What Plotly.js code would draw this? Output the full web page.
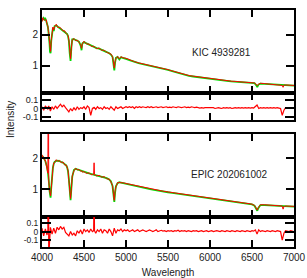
<!DOCTYPE html>
<html>
<head>
<meta charset="utf-8">
<script src="https://cdn.plot.ly/plotly-3.0.1.min.js"></script>
<style>html,body{margin:0;padding:0;background:#fff;}#chart{width:307px;height:278px;}</style>
</head>
<body>
<div id="chart"></div>
<script>
// Wavelength grid for spectra (Angstrom)
const wave = [
4000,4010,4020,4030,4040,4050,4060,4070,4075,4080,
4090,4095,4102,4110,4120,4130,4140,4150,4170,4190,
4210,4230,4250,4270,4290,4300,4310,4320,4330,4340,
4350,4360,4380,4400,4420,4440,4460,4471,4480,4500,
4530,4560,4590,4615,4620,4625,4650,4680,4710,4740,
4770,4800,4820,4840,4850,4861,4870,4880,4900,4921,
4940,4970,5000,5050,5100,5150,5200,5250,5300,5350,
5400,5450,5500,5550,5600,5650,5700,5750,5800,5850,
5900,5950,6000,6050,6100,6150,6200,6250,6300,6350,
6400,6450,6500,6530,6550,6563,6575,6600,6650,6700,
6750,6800,6840,6860,6870,6880,6900,6950,7000];

// KIC 4939281: model (green) and observed (red)
const kicModel = [
2.45,2.52,2.54,2.50,2.52,2.45,2.38,2.25,2.15,2.05,
1.70,1.45,1.40,1.80,2.10,2.22,2.12,2.28,2.30,2.26,
2.21,2.18,2.14,2.10,2.05,2.02,1.95,1.80,1.40,1.15,
1.60,1.85,1.86,1.83,1.81,1.78,1.65,1.50,1.72,1.76,
1.72,1.68,1.64,1.61,1.60,1.59,1.57,1.55,1.52,1.48,
1.44,1.40,1.36,1.28,1.10,0.85,1.10,1.25,1.28,1.20,
1.27,1.25,1.22,1.17,1.12,1.08,1.05,1.02,1.00,0.96,
0.92,0.89,0.86,0.82,0.78,0.74,0.70,0.67,0.65,0.63,
0.62,0.60,0.58,0.555,0.535,0.52,0.51,0.495,0.485,0.47,
0.46,0.45,0.44,0.435,0.37,0.31,0.38,0.42,0.41,0.40,
0.39,0.38,0.375,0.373,0.372,0.371,0.37,0.36,0.355];
const kicObs = [
2.42,2.55,2.50,2.46,2.49,2.48,2.34,2.28,2.13,2.08,
1.76,1.52,1.46,1.82,2.13,2.25,2.16,2.26,2.34,2.23,
2.24,2.20,2.12,2.13,2.03,2.00,1.98,1.83,1.46,1.22,
1.57,1.84,1.88,1.81,1.83,1.76,1.68,1.56,1.70,1.79,
1.70,1.70,1.62,1.63,1.60,1.61,1.55,1.57,1.50,1.50,
1.43,1.40,1.38,1.29,1.14,0.92,1.13,1.23,1.30,1.22,
1.29,1.25,1.24,1.18,1.13,1.09,1.06,1.03,1.01,0.97,
0.93,0.90,0.87,0.83,0.79,0.75,0.71,0.68,0.66,0.64,
0.63,0.61,0.59,0.56,0.54,0.53,0.52,0.50,0.49,0.48,
0.47,0.46,0.45,0.44,0.40,0.35,0.40,0.43,0.42,0.41,
0.40,0.39,0.38,0.36,0.30,0.37,0.375,0.365,0.36];

// EPIC 202061002: model (green) and observed (red)
const epicModel = [
2.08,2.05,2.01,1.96,1.90,1.82,1.72,1.55,1.45,1.30,
0.95,0.78,0.74,1.05,1.45,1.70,1.82,1.88,1.91,1.92,
1.90,1.88,1.85,1.81,1.76,1.70,1.58,1.32,0.88,0.66,
1.05,1.40,1.62,1.66,1.64,1.62,1.60,1.58,1.57,1.55,
1.53,1.51,1.49,1.475,1.47,1.465,1.45,1.43,1.41,1.39,
1.36,1.32,1.26,1.10,0.85,0.60,0.90,1.10,1.20,1.23,
1.22,1.20,1.18,1.15,1.12,1.09,1.06,1.03,1.00,0.98,
0.95,0.93,0.91,0.89,0.87,0.85,0.83,0.81,0.79,0.77,
0.75,0.73,0.71,0.69,0.67,0.66,0.64,0.62,0.60,0.58,
0.56,0.54,0.52,0.48,0.38,0.32,0.40,0.50,0.50,0.49,
0.48,0.47,0.46,0.46,0.46,0.46,0.46,0.45,0.45];
const epicObs = [
2.11,2.02,2.04,1.93,1.93,1.79,1.75,1.52,6.00,1.27,
0.99,0.81,0.79,1.02,1.48,1.67,1.85,1.85,1.95,1.89,
1.93,1.85,1.88,1.78,1.78,1.67,1.61,1.29,0.93,0.71,
1.02,1.43,1.59,1.68,1.62,1.64,1.58,1.60,1.55,1.57,
1.51,1.53,1.47,1.49,1.85,1.47,1.43,1.45,1.39,1.41,
1.34,1.33,1.24,1.12,0.88,0.65,0.94,1.08,1.22,1.22,
1.23,1.21,1.19,1.16,1.13,1.10,1.07,1.04,1.01,0.99,
0.96,0.94,0.92,0.90,0.88,0.86,0.84,0.82,0.80,0.78,
0.76,0.74,0.72,0.70,0.68,0.67,0.65,0.63,0.61,0.59,
0.57,0.55,0.53,0.49,0.40,0.34,0.42,0.51,0.51,0.50,
0.49,0.48,0.47,0.47,0.37,0.45,0.47,0.46,0.46];

// Residual grid (Angstrom)
const rwave = [
4000,4020,4040,4060,4070,4075,4080,4100,4120,4140,
4160,4180,4200,4220,4240,4260,4280,4300,4320,4340,
4360,4380,4400,4420,4440,4460,4480,4500,4520,4540,
4560,4580,4600,4615,4620,4625,4640,4660,4680,4700,
4720,4740,4760,4780,4800,4820,4840,4860,4880,4900,
4920,4940,4960,4980,5000,5020,5040,5060,5080,5100,
5120,5140,5160,5180,5200,5220,5240,5260,5280,5300,
5320,5340,5360,5380,5400,5420,5440,5460,5480,5500,
5520,5540,5560,5580,5600,5620,5640,5660,5680,5700,
5720,5740,5760,5780,5800,5820,5840,5860,5880,5900,
5920,5940,5960,5980,6000,6020,6040,6060,6080,6100,
6120,6140,6160,6180,6200,6220,6240,6260,6280,6300,
6320,6340,6360,6380,6400,6420,6440,6460,6480,6500,
6520,6540,6560,6580,6600,6620,6640,6660,6680,6700,
6720,6740,6760,6780,6800,6820,6840,6860,6880,6900,
6920,6940,6960,6980,7000];
const kicResid = [
0.02,-0.02,0.03,0.01,-0.01,0.02,0.03,-0.03,0.02,-0.01,
0.03,0.00,0.03,0.05,0.02,0.04,0.01,-0.02,-0.04,0.00,
-0.03,0.01,-0.02,0.02,-0.01,0.01,0.00,0.02,-0.01,0.03,
0.01,-0.08,0.00,0.01,0.00,0.01,-0.01,0.02,0.00,0.01,
-0.01,0.02,0.00,0.01,-0.01,0.02,0.00,-0.02,0.02,0.00,
0.01,0.02,0.00,0.01,0.02,0.01,0.02,0.01,0.02,0.00,
0.02,0.01,0.02,0.01,0.02,0.015,0.01,0.02,0.01,0.02,
0.01,0.015,0.02,0.01,0.015,0.02,0.01,0.015,0.02,0.01,
0.015,0.01,0.02,0.015,0.01,0.02,0.015,0.01,0.015,0.02,
0.01,0.015,0.01,0.02,0.015,0.01,0.015,0.01,0.005,0.01,
0.005,0.01,0.01,0.005,0.01,0.005,0.01,0.0,0.005,0.01,
0.005,0.0,0.01,0.005,0.01,0.005,0.01,0.0,0.005,0.01,
0.005,0.01,0.005,0.01,0.005,0.01,0.005,0.01,0.005,0.01,
0.005,0.02,0.04,0.0,0.01,0.005,0.01,0.005,0.01,0.005,
0.01,0.005,0.01,0.005,0.01,0.005,0.0,-0.08,-0.02,0.01,
0.005,0.01,0.005,0.01,0.005];
const epicResid = [
0.04,-0.05,0.03,-0.04,0.02,3.0,-0.3,0.05,-0.03,0.04,
-0.02,0.05,0.02,0.06,0.03,0.05,-0.01,-0.03,-0.05,0.00,
-0.04,-0.02,-0.05,0.01,-0.02,0.02,-0.03,0.03,0.00,0.02,
-0.01,0.03,0.00,0.01,0.5,0.01,-0.02,0.02,0.00,0.03,
-0.02,0.02,0.01,-0.02,0.03,0.00,-0.05,0.04,-0.02,0.02,
0.01,0.03,0.00,0.02,0.01,0.02,0.00,0.01,0.02,0.00,
0.01,0.02,0.00,0.01,0.02,0.01,0.00,0.01,0.02,0.01,
0.00,0.01,0.02,0.00,0.01,0.015,0.005,0.01,0.0,0.01,
0.005,0.01,0.0,0.01,0.005,0.015,0.0,0.01,0.005,0.01,
0.0,0.01,0.005,0.0,0.01,0.005,0.01,0.0,0.005,0.01,
0.0,0.005,0.01,0.0,0.005,0.01,0.0,0.005,0.01,0.005,
0.0,0.01,0.005,0.0,0.01,0.005,0.0,0.01,0.005,0.0,
0.01,0.005,0.0,0.01,0.005,0.0,0.01,0.005,0.0,0.01,
0.005,0.02,-0.03,0.02,0.0,0.01,0.005,0.0,0.01,0.005,
0.0,0.01,0.005,0.0,0.01,0.005,0.0,-0.10,-0.02,0.01,
0.005,0.0,0.01,0.005,0.0];

const xTicks = [4000,4500,5000,5500,6000,6500,7000];
const xTickText = ['4000','4500','5000','5500','6000','6500','7000'];
const specTicks = [1,2];
const specTickText = ['1','2'];
const resTicks = [-0.1,0,0.1];
const resTickText = ['-0.1','0','0.1'];
const labels = ['KIC 4939281','EPIC 202061002'];

const GREEN = '#00dd00', RED = '#ff0000';
const FONT = 'Liberation Sans, Arial, Helvetica, sans-serif';

const traces = [
  {x: wave, y: kicModel, xaxis:'x', yaxis:'y', mode:'lines', line:{color:GREEN, width:1.8}},
  {x: wave, y: kicObs, xaxis:'x', yaxis:'y', mode:'lines', line:{color:RED, width:1}},
  {x: rwave, y: kicResid, xaxis:'x2', yaxis:'y2', mode:'lines', line:{color:RED, width:1.2}},
  {x: wave, y: epicModel, xaxis:'x3', yaxis:'y3', mode:'lines', line:{color:GREEN, width:1.8}},
  {x: wave, y: epicObs, xaxis:'x3', yaxis:'y3', mode:'lines', line:{color:RED, width:1}},
  {x: rwave, y: epicResid, xaxis:'x4', yaxis:'y4', mode:'lines', line:{color:RED, width:1.2}}
];

function xax(anchor, showLabels){
  return {anchor: anchor, domain:[0,1], range:[4000,7000], tickvals:xTicks, ticktext:xTickText,
    showticklabels: showLabels, ticks:'inside', ticklen:7, tickwidth:2, tickcolor:'#000',
    showline:true, linecolor:'#000', linewidth:2, mirror:'ticks', showgrid:false, zeroline:false,
    tickfont:{size:10, color:'#222', family:FONT}};
}
function yax(anchor, domain, range, tv, tt, tl, fs){
  return {anchor: anchor, domain: domain, range: range, tickvals: tv, ticktext: tt,
    ticks:'inside', ticklen: tl, tickwidth:2, tickcolor:'#000',
    showline:true, linecolor:'#000', linewidth:2, mirror:'ticks', showgrid:false, zeroline:false,
    tickfont:{size:fs, color:'#222', family:FONT}};
}

const layout = {
  width:307, height:278,
  margin:{l:42, r:13, t:10, b:31},
  paper_bgcolor:'#fff', plot_bgcolor:'#fff',
  showlegend:false,
  font:{family:FONT, size:10, color:'#222'},
  xaxis: xax('y', false),
  xaxis2: xax('y2', false),
  xaxis3: xax('y3', false),
  xaxis4: Object.assign(xax('y4', true), {title:{text:'Wavelength', font:{size:10, family:FONT, color:'#222'}, standoff:8}}),
  yaxis: yax('x', [0.6477,1], [0.1,2.8], specTicks, specTickText, 8, 10),
  yaxis2: yax('x2', [0.5359,0.6477], [-0.135,0.176], resTicks, resTickText, 9, 9),
  yaxis3: yax('x3', [0.1266,0.4768], [0.12,2.77], specTicks, specTickText, 8, 10),
  yaxis4: yax('x4', [0,0.1266], [-0.18,0.17], resTicks, resTickText, 9, 8.5),
  annotations: [
    {text: labels[0], xref:'x', yref:'y', x:6131, y:1.43, showarrow:false, xanchor:'center', yanchor:'middle', font:{size:10, family:FONT, color:'#222'}},
    {text: labels[1], xref:'x3', yref:'y3', x:6238, y:1.47, showarrow:false, xanchor:'center', yanchor:'middle', font:{size:10, family:FONT, color:'#222'}},
    {text:'Intensity', xref:'paper', yref:'paper', x:-0.127, y:0.54, textangle:-90, showarrow:false, xanchor:'center', yanchor:'middle', font:{size:10, family:FONT, color:'#222'}}
  ]
};

Plotly.newPlot('chart', traces, layout, {staticPlot:true, displayModeBar:false});
</script>
</body>
</html>
